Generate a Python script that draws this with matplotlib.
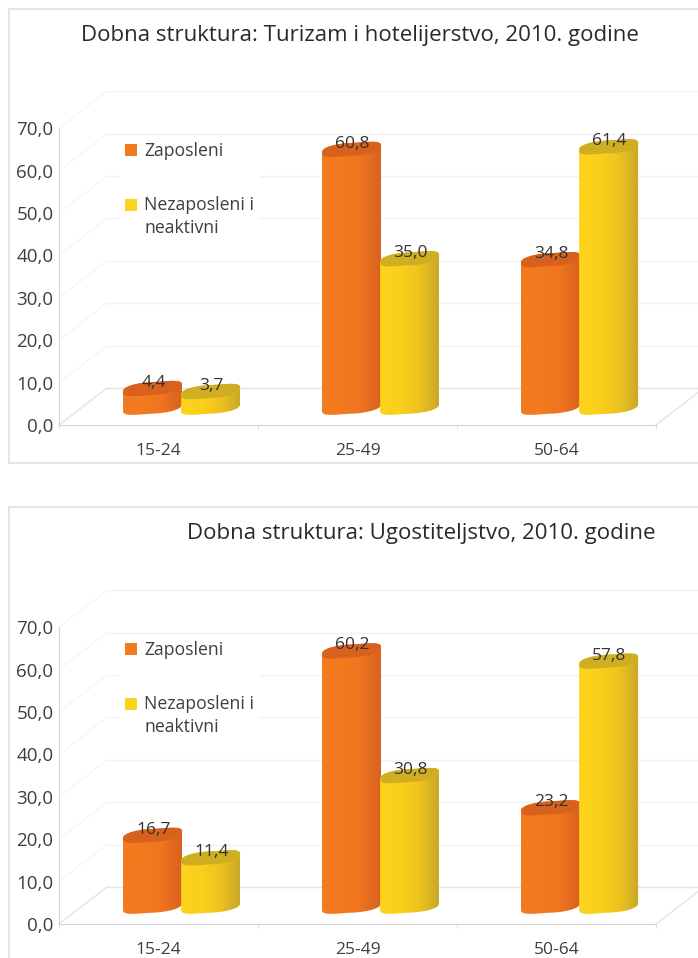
import numpy as np
import matplotlib
matplotlib.use('Agg')
import matplotlib.pyplot as plt
from matplotlib.colors import LinearSegmentedColormap
from matplotlib.lines import Line2D
from matplotlib.patches import Patch, PathPatch, Polygon
from matplotlib.path import Path

plt.rcParams['font.family'] = ['Open Sans', 'DejaVu Sans']

W, H = 698, 958

# Data
categories = ['15-24', '25-49', '50-64']
y_ticks = [0, 10, 20, 30, 40, 50, 60, 70]
series_names = ['Zaposleni', 'Nezaposleni i\nneaktivni']
titles = ['Dobna struktura: Turizam i hotelijerstvo, 2010. godine',
          'Dobna struktura: Ugostiteljstvo, 2010. godine']
turizam_zaposleni = [4.4, 60.8, 34.8]
turizam_nezaposleni = [3.7, 35.0, 61.4]
ugostiteljstvo_zaposleni = [16.7, 60.2, 23.2]
ugostiteljstvo_nezaposleni = [11.4, 30.8, 57.8]

ORANGE = ['#f47a1f', '#f47a1f', '#ee741f', '#d9621f']
YELLOW = ['#fdd31c', '#fbd01c', '#eec31f', '#c9a928']
ORANGE_TOP = '#d8611d'
YELLOW_TOP = '#d0ae22'
GRID = '#f2f2f2'
SIDE = '#f6f6f6'
FLOOR = '#e4e4e4'
AXIS = '#d6d6d6'
TEXT = '#3f3f3f'

PX_UNIT = 4.24    # pixels for one value unit
CAT_PX = 199      # pixels for one category
DEPTH_X = 48 / CAT_PX
DEPTH_Y = 37 / PX_UNIT
BASE = 4.2
BAR_W = 59 / CAT_PX
ELL_B = 6.5 / PX_UNIT
ELL_S = 3.5 / PX_UNIT


def squashed(v):
    # rounder corners than a plain ellipse, like the reference caps
    return np.sign(v) * np.abs(v) ** 0.7


def cylinder(ax, cx, value, colors, top_color):
    a = BAR_W / 2
    top = BASE + value
    t = np.linspace(0, np.pi, 40)
    # front of the base, left to right, then the top edge back again
    xb = cx - a * squashed(np.cos(t))
    yb = BASE - ELL_B * squashed(np.sin(t)) - ELL_S * np.cos(t)
    xt = cx + a * squashed(np.cos(t))
    yt = top + ELL_B * squashed(np.sin(t)) + ELL_S * np.cos(t)
    body = Path(np.column_stack([np.r_[xb, xt], np.r_[yb, yt]]))
    patch = PathPatch(body, fc='none', ec='none', zorder=3)
    ax.add_patch(patch)
    cmap = LinearSegmentedColormap.from_list('cyl', colors)
    im = ax.imshow(np.linspace(0, 1, 64)[None, :], cmap=cmap, aspect='auto',
                   extent=[cx - a, cx + a, BASE - 3, top + 3], zorder=3,
                   interpolation='bilinear')
    im.set_clip_path(patch)
    t2 = np.linspace(0, 2 * np.pi, 80)
    ax.add_patch(Polygon(np.column_stack([cx + a * squashed(np.cos(t2)),
                                          top + ELL_B * squashed(np.sin(t2)) + ELL_S * np.cos(t2)]),
                         fc=top_color, ec='none', zorder=3))


def draw_chart(y_off, title, title_x, zaposleni, nezaposleni):
    ax = fig.add_axes([59 / W, 1 - (425 + y_off) / H, (698 - 59) / W, 70 * PX_UNIT / H])
    ax.patch.set_alpha(0)
    right = len(categories) - 0.5

    # back wall and side wall
    for v in y_ticks:
        ax.plot([-0.5, -0.5 + DEPTH_X], [v, v + DEPTH_Y], color=FLOOR if v == 0 else SIDE, lw=1,
                clip_on=False, zorder=1)
        ax.plot([-0.5 + DEPTH_X, right + DEPTH_X], [v + DEPTH_Y, v + DEPTH_Y],
                color=FLOOR if v == 0 else GRID, lw=1, clip_on=False, zorder=1)
    ax.plot([right, right + DEPTH_X], [0, DEPTH_Y], color=FLOOR, lw=1, clip_on=False, zorder=1)

    handles = [Patch(fc=ORANGE[0], ec='none', label=series_names[0]),
               Patch(fc=YELLOW[0], ec='none', label=series_names[1])]
    leg = ax.legend(handles=handles, loc='upper left', bbox_to_anchor=(120 / W, 1 - (137 + y_off) / H),
                    bbox_transform=fig.transFigure, frameon=True, facecolor='white', edgecolor='none',
                    framealpha=1, fancybox=False, fontsize=12.7, labelcolor=TEXT, handlelength=0.68,
                    handleheight=0.68, handletextpad=0.4, labelspacing=2.05, borderaxespad=0, borderpad=0.3)
    leg.set_zorder(2)
    leg.get_texts()[1].set_linespacing(1.3)
    leg.legend_handles[1].set_y(leg.legend_handles[1].get_y() + 9)

    for i in range(len(categories)):
        cylinder(ax, i - 0.03, zaposleni[i], ORANGE, ORANGE_TOP)
        cylinder(ax, i + 0.262, nezaposleni[i], YELLOW, YELLOW_TOP)
        ax.text(i - 0.025, BASE + zaposleni[i] + 1.3, f'{zaposleni[i]:.1f}'.replace('.', ','),
                ha='center', va='center', fontsize=12.5, color='#333333', zorder=4)
        ax.text(i + 0.265, BASE + nezaposleni[i] + 1.3, f'{nezaposleni[i]:.1f}'.replace('.', ','),
                ha='center', va='center', fontsize=12.5, color='#333333', zorder=4)

    ax.set_xlim(-0.5, -0.5 + (698 - 59) / CAT_PX)
    ax.set_ylim(0, 70)
    ax.set_yticks(y_ticks)
    ax.set_yticklabels([f'{v:.1f}'.replace('.', ',') for v in y_ticks], fontsize=13.5, color=TEXT,
                       va='center_baseline')
    ax.set_xticks(range(len(categories)))
    ax.set_xticklabels(categories, fontsize=12.5, color=TEXT)
    ax.set_xticks(np.arange(-0.5, len(categories)), minor=True)
    ax.tick_params(axis='x', which='major', length=0, pad=13)
    ax.tick_params(axis='x', which='minor', length=3, color=AXIS, direction='out')
    ax.tick_params(axis='y', length=0, pad=4)
    for s in ['top', 'right']:
        ax.spines[s].set_visible(False)
    ax.spines['left'].set_color(AXIS)
    ax.spines['bottom'].set_color(AXIS)
    ax.spines['bottom'].set_bounds(-0.5, right)
    fig.text(title_x / W, 1 - (35 + y_off) / H, title, ha='center', va='center',
             fontsize=16, color='#2a2a2a')


fig = plt.figure(figsize=(W / 100, H / 100), dpi=100)

# panel frames
for x, y in [([9, 9, 698], [463, 9, 9]), ([698, 9], [463, 463]), ([9, 9, 698], [958, 507, 507])]:
    fig.add_artist(Line2D(np.array(x) / W, 1 - np.array(y) / H, color='#e2e2e2', lw=1.3))

draw_chart(0, titles[0], 360, turizam_zaposleni, turizam_nezaposleni)
draw_chart(499, titles[1], 421, ugostiteljstvo_zaposleni, ugostiteljstvo_nezaposleni)

fig.savefig('out.png', dpi=100)
